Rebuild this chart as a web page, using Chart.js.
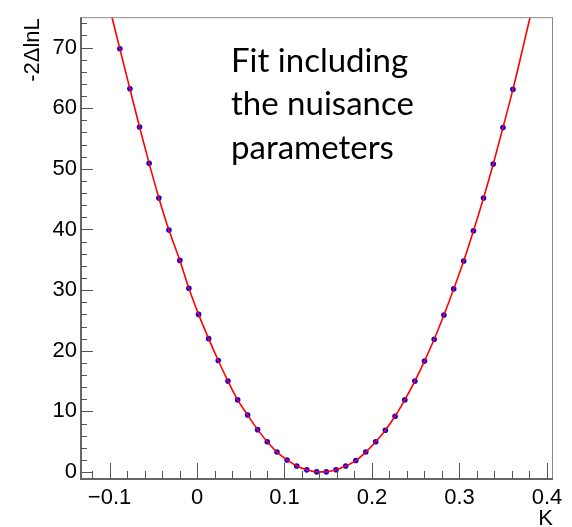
<!DOCTYPE html>
<html>
<head>
<meta charset="utf-8">
<script src="https://cdn.jsdelivr.net/npm/chart.js@4.4.1/dist/chart.umd.min.js"></script>
<style>
  html, body { margin: 0; padding: 0; background: #fff; }
  #wrap { width: 572px; height: 527px; }
</style>
</head>
<body>
<div id="wrap"><canvas id="scan" width="572" height="527"></canvas></div>
<script>
// scan points
var kValues = [-0.0882, -0.0767, -0.0657, -0.0547, -0.0436, -0.0321, -0.0196, -0.0093, 0.0018, 0.0133,
  0.0243, 0.0354, 0.0465, 0.0579, 0.0693, 0.0803, 0.0914, 0.1029, 0.1140, 0.1254,
  0.1368, 0.1478, 0.1589, 0.1700, 0.1815, 0.1929, 0.2043, 0.2153, 0.2264, 0.2375,
  0.2490, 0.2600, 0.2711, 0.2822, 0.2934, 0.3048, 0.3160, 0.3275, 0.3386, 0.3497, 0.3611];
var nllValues = [69.8, 63.2, 56.9, 50.9, 45.2, 39.9, 34.9, 30.3, 26.0, 22.0,
  18.4, 15.0, 11.9, 9.4, 7.0, 5.0, 3.3, 2.0, 1.0, 0.37,
  0.04, 0.04, 0.38, 1.0, 1.9, 3.3, 5.0, 6.9, 9.2, 11.9,
  15.0, 18.3, 21.9, 25.9, 30.2, 34.8, 39.8, 45.2, 50.8, 56.8, 63.1];

// where the fit curve leaves the frame at the top
var fitEdgeK = [-0.0972, 0.3807];
var fitEdgeVal = [75, 75];

var xTicks = [-0.1, 0, 0.1, 0.2, 0.3, 0.4];
var yTicks = [0, 10, 20, 30, 40, 50, 60, 70];
var xMinorStep = 0.02;
var yMinorStep = 2;

var xTitle = 'K';
var yTitle = '-2\u0394lnL';
var noteLines = ['Fit including', 'the nuisance', 'parameters'];

var points = kValues.map(function (k, i) { return { x: k, y: nllValues[i] }; });
var fitPoints = [{ x: fitEdgeK[0], y: fitEdgeVal[0] }].concat(points, [{ x: fitEdgeK[1], y: fitEdgeVal[1] }]);

var tickFont = { family: 'Liberation Sans', size: 22 };

var rootFrame = {
  id: 'rootFrame',
  afterDraw: function (chart) {
    var ctx = chart.ctx;
    var a = chart.chartArea;
    var xs = chart.scales.x, ys = chart.scales.y;
    ctx.save();

    // frame
    ctx.strokeStyle = '#8a8a8a';
    ctx.lineWidth = 1;
    ctx.strokeRect(a.left + 0.5, a.top + 0.5, a.right - a.left - 1, a.bottom - a.top);

    // axes
    ctx.strokeStyle = '#666';
    ctx.lineWidth = 2;
    ctx.beginPath();
    ctx.moveTo(a.left, a.top);
    ctx.lineTo(a.left, a.bottom);
    ctx.lineTo(a.right, a.bottom);
    ctx.stroke();

    // x ticks
    ctx.lineWidth = 1;
    ctx.strokeStyle = '#555';
    ctx.beginPath();
    for (var i = -6; i <= 20; i++) {
      var v = i * xMinorStep;
      if (v < xs.min || v > xs.max) continue;
      var px = Math.round(xs.getPixelForValue(v)) + 0.5;
      var major = i % 5 === 0;
      ctx.moveTo(px, a.bottom);
      ctx.lineTo(px, a.bottom - (major ? 16 : 8));
    }
    // y ticks
    for (var j = 0; j <= 37; j++) {
      var w = j * yMinorStep;
      if (w < ys.min || w > ys.max) continue;
      var py = Math.round(ys.getPixelForValue(w)) + 0.5;
      var ymajor = j % 5 === 0;
      ctx.moveTo(a.left, py);
      ctx.lineTo(a.left + (ymajor ? 12 : 6), py);
    }
    ctx.stroke();

    // axis titles
    ctx.fillStyle = '#000';
    ctx.font = '22px "Liberation Sans"';
    ctx.textAlign = 'right';
    ctx.textBaseline = 'alphabetic';
    ctx.fillText(xTitle, a.right, 525);

    ctx.save();
    ctx.translate(39, a.top + 1);
    ctx.rotate(-Math.PI / 2);
    ctx.textAlign = 'right';
    ctx.fillText(yTitle, 0, 0);
    ctx.restore();

    // note
    ctx.font = '33px Lato';
    ctx.textAlign = 'left';
    noteLines.forEach(function (t, n) {
      ctx.fillText(t, 231, 72 + n * 43.3);
    });
    ctx.restore();
  }
};

new Chart(document.getElementById('scan'), {
  type: 'scatter',
  data: {
    datasets: [
      {
        label: 'fit',
        type: 'line',
        data: fitPoints,
        borderColor: '#ff0000',
        borderWidth: 1.6,
        pointRadius: 0,
        fill: false,
        cubicInterpolationMode: 'monotone',
        order: 0
      },
      {
        label: 'scan',
        data: points,
        backgroundColor: '#0000ff',
        borderWidth: 0,
        pointRadius: 2.8,
        order: 1
      }
    ]
  },
  options: {
    responsive: false,
    devicePixelRatio: 1,
    animation: false,
    layout: { padding: { top: 9, right: 19, left: 0, bottom: 0 } },
    plugins: { legend: { display: false }, tooltip: { enabled: false } },
    scales: {
      x: {
        type: 'linear',
        min: -0.1326,
        max: 0.4069,
        grid: { display: false, drawTicks: false },
        border: { display: false },
        ticks: {
          font: tickFont,
          color: '#000',
          padding: 6,
          maxRotation: 0,
          autoSkip: false,
          callback: function (v) { return v < 0 ? '\u2212' + Math.abs(v) : String(v); }
        },
        afterBuildTicks: function (s) { s.ticks = xTicks.map(function (v) { return { value: v }; }); },
        afterFit: function (s) { s.height = 48; }
      },
      y: {
        type: 'linear',
        min: -1.14,
        max: 75,
        grid: { display: false, drawTicks: false },
        border: { display: false },
        ticks: {
          font: tickFont,
          color: '#000',
          padding: 4,
          autoSkip: false,
          callback: function (v) { return String(v); }
        },
        afterBuildTicks: function (s) { s.ticks = yTicks.map(function (v) { return { value: v }; }); },
        afterFit: function (s) { s.width = 81; }
      }
    }
  },
  plugins: [rootFrame]
});
</script>
</body>
</html>
